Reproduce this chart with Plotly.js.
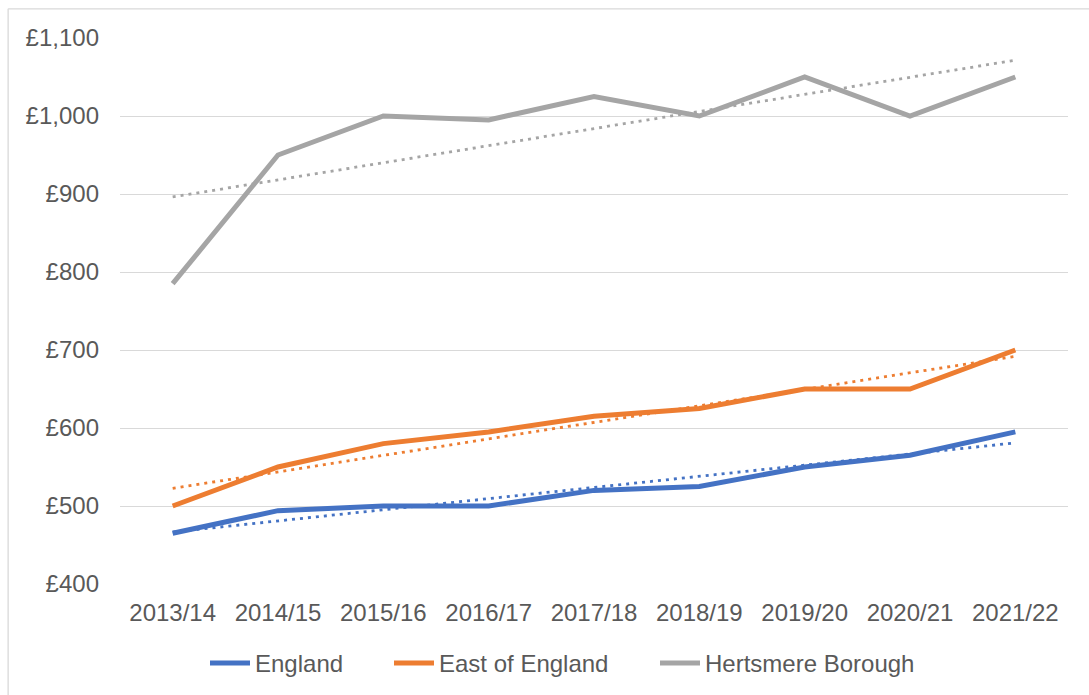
<!DOCTYPE html>
<html>
<head>
<meta charset="utf-8">
<script src="https://cdn.plot.ly/plotly-3.0.1.min.js"></script>
<style>
  html, body { margin: 0; padding: 0; background: #fff; }
  #chart { width: 1089px; height: 695px; }
</style>
</head>
<body>
<div id="chart"></div>
<script>
var years = ["2013/14", "2014/15", "2015/16", "2016/17", "2017/18", "2018/19", "2019/20", "2020/21", "2021/22"];
var england = [465, 494, 500, 500, 520, 525, 550, 565, 595];
var eastOfEngland = [500, 550, 580, 595, 615, 625, 650, 650, 700];
var hertsmere = [785, 950, 1000, 995, 1025, 1000, 1050, 1000, 1050];

// least squares trend over the category index, as Excel's linear trendline does
function trend(vals) {
    var n = vals.length, sx = 0, sy = 0, sxy = 0, sxx = 0;
    for (var i = 0; i < n; i++) {
        sx += i; sy += vals[i]; sxy += i * vals[i]; sxx += i * i;
    }
    var b = (n * sxy - sx * sy) / (n * sxx - sx * sx);
    var a = (sy - b * sx) / n;
    return vals.map(function (v, i) { return a + b * i; });
}

var series = [
    {name: "England", y: england, color: "#4472C4", legend: "legend"},
    {name: "East of England", y: eastOfEngland, color: "#ED7D31", legend: "legend2"},
    {name: "Hertsmere Borough", y: hertsmere, color: "#A5A5A5", legend: "legend3"}
];

var data = [];
series.forEach(function (s) {
    data.push({
        type: "scatter",
        mode: "lines",
        x: years,
        y: trend(s.y),
        showlegend: false,
        hoverinfo: "skip",
        line: {color: s.color, width: 2.8, dash: "3px,5px"}
    });
});
series.forEach(function (s) {
    data.push({
        type: "scatter",
        mode: "lines",
        name: s.name,
        legend: s.legend,
        x: years,
        y: s.y,
        line: {color: s.color, width: 5}
    });
});

function legendAt(px) {
    return {
        xref: "container", yref: "container",
        x: px / 1089, xanchor: "left",
        y: 1 - 641 / 695, yanchor: "top",
        orientation: "h",
        font: {size: 24, color: "#595959"},
        itemwidth: 40,
        bgcolor: "rgba(0,0,0,0)"
    };
}

var layout = {
    width: 1089,
    height: 695,
    paper_bgcolor: "#fff",
    plot_bgcolor: "#fff",
    margin: {l: 120, r: 21, t: 38, b: 111},
    font: {family: "Liberation Sans, Arial, sans-serif", size: 24, color: "#595959"},
    xaxis: {
        type: "category",
        range: [-0.5, 8.5],
        showgrid: false,
        zeroline: false,
        showline: false,
        ticks: "",
        ticklabelstandoff: 12,
        tickfont: {size: 24, color: "#595959"}
    },
    yaxis: {
        range: [400, 1100],
        dtick: 100,
        tickprefix: "£",
        tickformat: ",d",
        showgrid: true,
        gridcolor: "#D9D9D9",
        gridwidth: 1.3,
        zeroline: false,
        showline: false,
        ticks: "",
        ticklabelstandoff: 20,
        tickfont: {size: 24, color: "#595959"}
    },
    legend: legendAt(205),
    legend2: legendAt(389),
    legend3: legendAt(655),
    shapes: [
        {type: "line", xref: "paper", yref: "paper", x0: -0.118, x1: 1.03, y0: 1.0534, y1: 1.0534,
         line: {color: "#D9D9D9", width: 1.3}},
        {type: "line", xref: "paper", yref: "paper", x0: -0.118, x1: -0.118, y0: 1.0534, y1: -0.21,
         line: {color: "#D9D9D9", width: 1.3}}
    ],
    showlegend: true
};

Plotly.newPlot("chart", data, layout, {displayModeBar: false});
</script>
</body>
</html>
